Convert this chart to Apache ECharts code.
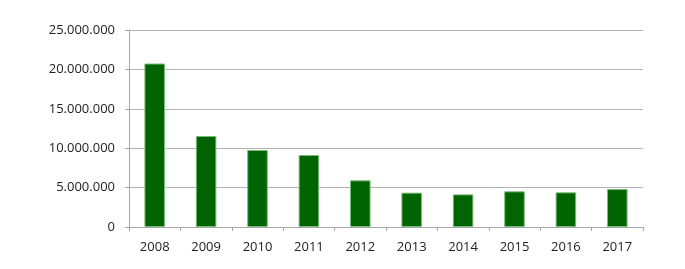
<!DOCTYPE html>
<html><head><meta charset="utf-8">
<script src="https://cdn.jsdelivr.net/npm/echarts@6/dist/echarts.min.js"></script>
<style>html,body{margin:0;padding:0;background:#fff}#c{width:685px;height:269px}</style>
</head><body><div id="c"></div>
<script>
const categories = ['2008','2009','2010','2011','2012','2013','2014','2015','2016','2017'];
const values = [20750000, 11550000, 9770000, 9140000, 5920000, 4360000, 4140000, 4530000, 4400000, 4820000];
const yMin = 0, yMax = 25000000, yStep = 5000000;

function fmt(v){ return String(v).replace(/\B(?=(\d{3})+(?!\d))/g, '.'); }

const chart = echarts.init(document.getElementById('c'), null, {renderer:'canvas'});
chart.setOption({
  animation:false,
  grid:{left:129,right:42,top:30,bottom:42},
  xAxis:{type:'category',data:categories,boundaryGap:true,
    axisLine:{lineStyle:{color:'#a6a6a6',width:1}},
    axisTick:{show:true,length:4,lineStyle:{color:'#a6a6a6'}},
    axisLabel:{color:'#222',fontFamily:'Open Sans',fontSize:13,margin:14}},
  yAxis:{type:'value',min:yMin,max:yMax,interval:yStep,
    axisLine:{show:true,lineStyle:{color:'#a6a6a6'}},
    axisTick:{show:true,length:4,lineStyle:{color:'#a6a6a6'}},
    splitLine:{lineStyle:{color:'#b3b3b3',width:1}},
    axisLabel:{color:'#222',fontFamily:'Open Sans',fontSize:13,margin:14,formatter:fmt}},
  series:[{type:'bar',data:values,barWidth:'40%',
    itemStyle:{color:'#006400',borderColor:'#7dbb7d',borderWidth:1}}]
});
</script></body></html>
